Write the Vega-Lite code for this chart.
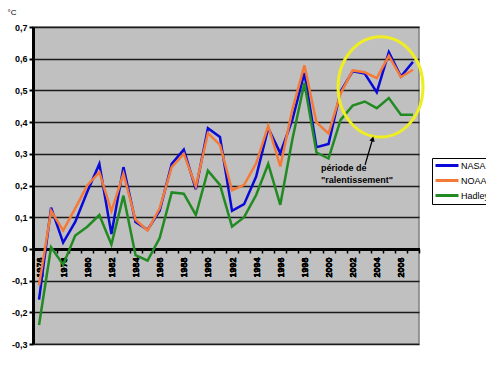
{
  "$schema": "https://vega.github.io/schema/vega-lite/v6.json",
  "width": 386,
  "height": 317,
  "autosize": {"type": "none"},
  "padding": {"left": 33, "top": 27, "right": 67, "bottom": 23},
  "background": "white",
  "config": {
    "locale": {"number": {"decimal": ",", "thousands": ".", "grouping": [3], "currency": ["", " €"], "minus": "-"}},
    "view": {"fill": "#c0c0c0", "stroke": "#808080", "strokeWidth": 1.5},
    "font": "Liberation Sans",
    "axis": {"labelFont": "Liberation Sans", "labelColor": "black", "titleFont": "Liberation Sans", "titleColor": "black"}
  },
  "datasets": {
    "temps": [
      {"year": 1976, "NASA": -0.16, "NOAA": -0.115, "Hadley": -0.24},
      {"year": 1977, "NASA": 0.13, "NOAA": 0.12, "Hadley": 0.005},
      {"year": 1978, "NASA": 0.02, "NOAA": 0.058, "Hadley": -0.05},
      {"year": 1979, "NASA": 0.085, "NOAA": 0.128, "Hadley": 0.042},
      {"year": 1980, "NASA": 0.18, "NOAA": 0.2, "Hadley": 0.07},
      {"year": 1981, "NASA": 0.268, "NOAA": 0.242, "Hadley": 0.107},
      {"year": 1982, "NASA": 0.047, "NOAA": 0.119, "Hadley": 0.014},
      {"year": 1983, "NASA": 0.258, "NOAA": 0.237, "Hadley": 0.168},
      {"year": 1984, "NASA": 0.085, "NOAA": 0.092, "Hadley": -0.02},
      {"year": 1985, "NASA": 0.06, "NOAA": 0.058, "Hadley": -0.037},
      {"year": 1986, "NASA": 0.12, "NOAA": 0.128, "Hadley": 0.034},
      {"year": 1987, "NASA": 0.268, "NOAA": 0.258, "Hadley": 0.178},
      {"year": 1988, "NASA": 0.313, "NOAA": 0.3, "Hadley": 0.174},
      {"year": 1989, "NASA": 0.188, "NOAA": 0.197, "Hadley": 0.107},
      {"year": 1990, "NASA": 0.381, "NOAA": 0.365, "Hadley": 0.247},
      {"year": 1991, "NASA": 0.353, "NOAA": 0.328, "Hadley": 0.202},
      {"year": 1992, "NASA": 0.12, "NOAA": 0.185, "Hadley": 0.07},
      {"year": 1993, "NASA": 0.141, "NOAA": 0.202, "Hadley": 0.1},
      {"year": 1994, "NASA": 0.228, "NOAA": 0.27, "Hadley": 0.17},
      {"year": 1995, "NASA": 0.381, "NOAA": 0.388, "Hadley": 0.268},
      {"year": 1996, "NASA": 0.302, "NOAA": 0.26, "Hadley": 0.139},
      {"year": 1997, "NASA": 0.407, "NOAA": 0.439, "Hadley": 0.345},
      {"year": 1998, "NASA": 0.555, "NOAA": 0.579, "Hadley": 0.523},
      {"year": 1999, "NASA": 0.321, "NOAA": 0.399, "Hadley": 0.304},
      {"year": 2000, "NASA": 0.331, "NOAA": 0.364, "Hadley": 0.285},
      {"year": 2001, "NASA": 0.497, "NOAA": 0.49, "Hadley": 0.407},
      {"year": 2002, "NASA": 0.56, "NOAA": 0.563, "Hadley": 0.452},
      {"year": 2003, "NASA": 0.553, "NOAA": 0.557, "Hadley": 0.465},
      {"year": 2004, "NASA": 0.494, "NOAA": 0.539, "Hadley": 0.444},
      {"year": 2005, "NASA": 0.621, "NOAA": 0.609, "Hadley": 0.476},
      {"year": 2006, "NASA": 0.544, "NOAA": 0.542, "Hadley": 0.423},
      {"year": 2007, "NASA": 0.59, "NOAA": 0.565, "Hadley": 0.423}
    ],
    "ellipse": [{"year": 2004.31, "value": 0.511}],
    "arrow": [{"year": 2003.03, "value": 0.265, "year2": 2003.66, "value2": 0.347}],
    "arrowhead": [{"year": 2003.66, "value": 0.347}],
    "note": [{"year": 1999.38, "value": 0.256, "label": "période de\n\"ralentissement\""}]
  },
  "encoding": {
    "x": {
      "field": "year", "type": "quantitative",
      "scale": {"domain": [1975.5, 2007.5], "nice": false, "zero": false},
      "axis": {
        "orient": "bottom", "offset": -95,
        "values": [1976, 1978, 1980, 1982, 1984, 1986, 1988, 1990, 1992, 1994, 1996, 1998, 2000, 2002, 2004, 2006],
        "format": "d", "labelAngle": -90, "labelFontWeight": "bold", "labelFontSize": 9,
        "labelPadding": 8, "labelFlush": false, "labelOverlap": false,
        "ticks": false, "domain": true, "domainColor": "black", "domainWidth": 3,
        "grid": false, "title": null
      }
    },
    "y": {
      "field": "value", "type": "quantitative",
      "scale": {"domain": [-0.3, 0.7], "nice": false, "zero": false},
      "axis": {
        "values": [-0.3, -0.2, -0.1, 0, 0.1, 0.2, 0.3, 0.4, 0.5, 0.6, 0.7],
        "format": "~g", "labelFontWeight": "bold", "labelFontSize": 9, "labelPadding": 2,
        "domain": true, "domainColor": "black", "domainWidth": 3,
        "ticks": true, "tickColor": "black", "tickSize": 4, "tickWidth": 2,
        "grid": true, "gridColor": "#1a1a1a", "gridWidth": 1.4,
        "title": "°C", "titleAngle": 0, "titleX": -26, "titleY": -15,
        "titleAlign": "left", "titleBaseline": "middle", "titleFontSize": 8, "titleFontWeight": "normal"
      }
    }
  },
  "layer": [
    {
      "data": {"name": "temps"},
      "transform": [{"fold": ["NASA", "NOAA", "Hadley"], "as": ["series", "value"]}],
      "mark": {"type": "line", "strokeWidth": 2.5},
      "encoding": {
        "color": {
          "field": "series", "type": "nominal",
          "scale": {"domain": ["NASA", "NOAA", "Hadley"], "range": ["#0a0ad8", "#f57a38", "#228a22"]},
          "legend": {
            "orient": "none", "legendX": 399, "legendY": 131, "title": null,
            "symbolType": "M -1 0 L 4.75 0", "symbolSize": 64, "symbolStrokeWidth": 3,
            "labelFontSize": 9, "labelFont": "Liberation Sans", "labelColor": "black", "labelOffset": 16,
            "padding": 2, "rowPadding": 2, "strokeColor": "black", "fillColor": "white"
          }
        }
      }
    },
    {
      "data": {"name": "ellipse"},
      "mark": {
        "type": "point",
        "shape": "M -1 0 A 1 1.18 0 1 0 1 0 A 1 1.18 0 1 0 -1 0 Z",
        "size": 7225, "filled": false, "stroke": "#eeee22", "strokeWidth": 3, "opacity": 1
      },
      "encoding": {
        "x": {
          "field": "year", "type": "quantitative",
          "scale": {"domain": [1975.5, 2007.5], "nice": false, "zero": false},
          "axis": {
            "orient": "bottom", "offset": -95,
            "values": [1975.5, 1976.5, 1977.5, 1978.5, 1979.5, 1980.5, 1981.5, 1982.5, 1983.5, 1984.5, 1985.5, 1986.5, 1987.5, 1988.5, 1989.5, 1990.5, 1991.5, 1992.5, 1993.5, 1994.5, 1995.5, 1996.5, 1997.5, 1998.5, 1999.5, 2000.5, 2001.5, 2002.5, 2003.5, 2004.5, 2005.5, 2006.5, 2007.5],
            "labels": false, "domain": false, "ticks": true, "tickColor": "black",
            "tickWidth": 1.5, "tickSize": 4, "grid": false, "title": null
          }
        }
      }
    },
    {
      "data": {"name": "arrow"},
      "mark": {"type": "rule", "color": "black", "strokeWidth": 1.3},
      "encoding": {
        "x2": {"field": "year2"},
        "y2": {"field": "value2"}
      }
    },
    {
      "data": {"name": "arrowhead"},
      "mark": {"type": "point", "shape": "triangle-up", "size": 30, "filled": true, "color": "black", "opacity": 1, "angle": 16},
      "encoding": {}
    },
    {
      "data": {"name": "note"},
      "mark": {"type": "text", "align": "left", "baseline": "middle", "fontWeight": "bold", "fontSize": 9, "font": "Liberation Sans", "lineBreak": "\n", "lineHeight": 12.5, "color": "black"},
      "encoding": {
        "text": {"field": "label"}
      }
    }
  ],
  "resolve": {"axis": {"x": "independent"}}
}
